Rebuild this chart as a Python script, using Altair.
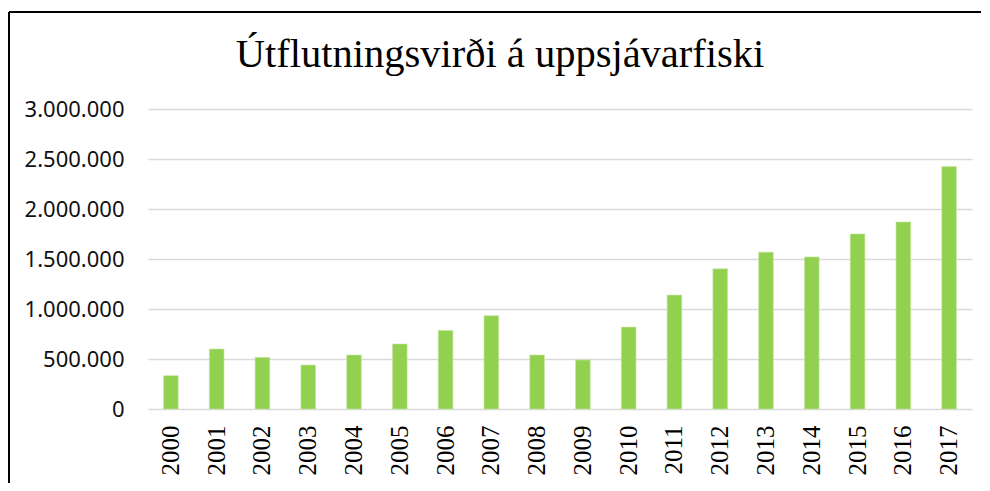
import altair as alt
import pandas as pd

years = [str(y) for y in range(2000, 2018)]
values = [333000, 600000, 516000, 440000, 540000, 650000, 786000, 933000, 540000,
          490000, 819000, 1139000, 1402000, 1568000, 1521000, 1751000, 1871000, 2424000]
title_text = ["Útflutningsvirði á uppsjávarfiski"]

df = pd.DataFrame({"year": years, "value": values})
tdf = pd.DataFrame({"t": title_text})

PLOT_LEFT = 148
PLOT_TOP = 109
W = 824
H = 300

bars = alt.Chart(df).mark_bar(color="#92D050", stroke="#C6E6A4", strokeWidth=0.6).encode(
    x=alt.X("year:N", sort=years, title=None,
            scale=alt.Scale(paddingInner=0.68, paddingOuter=0.34),
            axis=alt.Axis(labelAngle=270, labelFont="Liberation Serif", labelFontSize=25,
                          labelColor="#000000", labelPadding=16, ticks=False, domain=False,
                          labelAlign="right", labelBaseline="middle")),
    y=alt.Y("value:Q", title=None,
            scale=alt.Scale(domain=[0, 3000000], nice=False),
            axis=alt.Axis(values=[0, 500000, 1000000, 1500000, 2000000, 2500000, 3000000],
                          format=",d", labelFont="Noto Sans", labelFontSize=22,
                          labelColor="#111111", labelPadding=24, ticks=False, domain=False,
                          grid=True, gridColor="#D9D9D9", gridWidth=1.6)),
)

title = alt.Chart(tdf).mark_text(
    font="Liberation Serif", fontSize=40.5, color="#000000", align="center", baseline="alphabetic"
).encode(
    text="t:N",
    x=alt.value(500 - PLOT_LEFT),
    y=alt.value(67 - PLOT_TOP),
)

frame_top = alt.Chart(tdf).mark_rule(stroke="#000000", strokeWidth=2).encode(
    x=alt.value(9 - PLOT_LEFT),
    x2=alt.value(981 - PLOT_LEFT),
    y=alt.value(12 - PLOT_TOP),
)
frame_left = alt.Chart(tdf).mark_rule(stroke="#000000", strokeWidth=2).encode(
    x=alt.value(9 - PLOT_LEFT),
    y=alt.value(12 - PLOT_TOP),
    y2=alt.value(483 - PLOT_TOP),
)

chart = alt.layer(frame_top, frame_left, bars, title).properties(
    width=W, height=H,
    autosize=alt.AutoSizeParams(type="none"),
    padding={"left": PLOT_LEFT - 8, "top": PLOT_TOP - 8, "right": 990 - 16 - PLOT_LEFT - W + 8,
             "bottom": 491 - 16 - (PLOT_TOP - 8) - H},
).configure(
    locale={"number": {"decimal": ",", "thousands": ".", "grouping": [3], "currency": ["", " kr."]}}
).configure_view(stroke=None)

chart.save("out.html", embed_options={"renderer": "svg", "actions": False})
